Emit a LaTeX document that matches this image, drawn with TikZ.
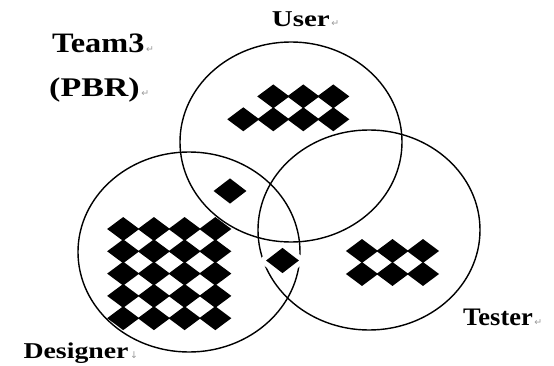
\documentclass[tikz,border=0pt]{standalone}
\usepackage{fontspec}
\setmainfont{Liberation Serif}
\newfontfamily\markfont{DejaVu Sans}
\usepackage{graphicx}
\usetikzlibrary{shapes.geometric,positioning}

\newcommand{\wide}[2]{\scalebox{#1}[1]{#2}}

\tikzset{
  setring/.style={ellipse, draw, line width=1.2pt, inner sep=0pt,
    minimum width=6.66cm, minimum height=6cm},
  tile/.style={diamond, fill=black, inner sep=0pt, outer sep=0pt,
    minimum width=27.4pt, minimum height=20.4pt},
  lone/.style={tile, minimum width=28pt, minimum height=21.5pt},
  cutout/.style={preaction={draw=white, line width=9pt, line join=round}},
  lbl/.style={inner sep=0pt, anchor=base west},
  pmark/.style={font=\markfont\fontsize{8}{8}\selectfont, text=gray!80,
    inner sep=0pt, anchor=base west},
}

\begin{document}
\begin{tikzpicture}[x=0.03cm, y=-0.03cm]
 \useasboundingbox (0,0) rectangle (554,366);

 % the three sets
 \node[setring] (user) at (291,142) {};
 \node[setring] (designer) at (189,252) {};
 \node[setring] (tester) at (369,230) {};

 % User only
 \foreach \c in {2,3,4}
   \node[tile] (u1\c) at ({213.3+30*\c},96.4) {};
 \foreach \c in {1,...,4}
   \node[tile] (u2\c) at ({213.3+30*\c},119.3) {};

 % Designer only
 \foreach \r in {1,...,5}
   \foreach \c in {1,...,4}
     \node[tile] (d\r\c) at ({92.5+30.7*\c},{206.7+22.3*\r}) {};

 % Tester only
 \foreach \r in {1,2}
   \foreach \c in {1,2,3}
     \node[tile] (t\r\c) at ({331.5+30.5*\c},{228+23*\r}) {};

 % shared ones
 \node[lone] (ud) at (230,191) {};
 \node[lone, cutout] (dt) at (282.5,260.5) {}; % cuts the two rings

 % labels
 \node[lbl, font=\bfseries\fontsize{24}{24}\selectfont] (team) at (52,52.7) {\wide{1.15}{Team3}};
 \node[lbl, font=\bfseries\fontsize{23}{23}\selectfont] (pbr) at (49,96.7) {\wide{1.26}{(PBR)}};
 \node[lbl, font=\bfseries\fontsize{19.3}{19.3}\selectfont] (userlbl) at (271.7,26.7) {\wide{1.28}{User}};
 \node[lbl, font=\bfseries\fontsize{21.5}{21.5}\selectfont] (testerlbl) at (463,325) {\wide{1.05}{Tester}};
 \node[lbl, font=\bfseries\fontsize{19.3}{19.3}\selectfont] (designerlbl) at (23.3,358) {\wide{1.23}{Designer}};

 % paragraph marks
 \node[pmark] (teammk) at ([xshift=1pt]team.base east) {↵};
 \node[pmark] (pbrmk) at ([xshift=1pt]pbr.base east) {↵};
 \node[pmark] (usermk) at ([xshift=1pt]userlbl.base east) {↵};
 \node[pmark] (testermk) at ([xshift=1pt]testerlbl.base east) {↵};
 \node[pmark] (designermk) at ([xshift=1pt]designerlbl.base east) {↓};

\end{tikzpicture}
\end{document}
